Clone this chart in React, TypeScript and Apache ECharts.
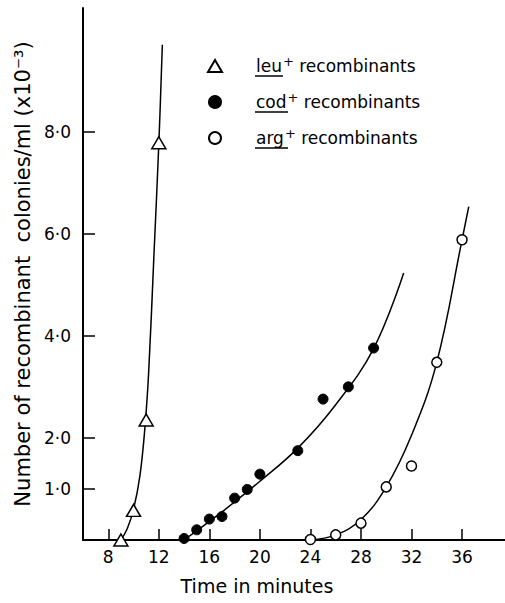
import React, { useEffect, useRef } from "react";
import * as echarts from "echarts";

// Tick values
const xTickValues = [8, 12, 16, 20, 24, 28, 32, 36];
const yTickValues = [1, 2, 4, 6, 8];

// leu+ recombinants (open triangles)
const leuTimes = [9, 10, 11, 12];
const leuCounts = [0, 0.58, 2.35, 7.78];
const leuCurve = [
  [9, 0], [9.5, 0.22], [10, 0.6], [10.5, 1.25], [10.9, 2.2], [11.2, 3.3], [11.6, 5.5], [12.0, 7.75], [12.28, 9.7],
];

// cod+ recombinants (filled circles)
const codTimes = [14, 15, 16, 17, 18, 19, 20, 23, 25, 27, 29];
const codCounts = [0.03, 0.2, 0.41, 0.46, 0.82, 0.99, 1.29, 1.75, 2.76, 3.0, 3.76];
const codCurve = [
  [14, 0], [17, 0.55], [20, 1.15], [23, 1.8], [26, 2.65], [29, 3.75], [31.38, 5.23],
];

// arg+ recombinants (open circles)
const argTimes = [24, 26, 28, 30, 32, 34, 36];
const argCounts = [0.01, 0.1, 0.33, 1.04, 1.45, 3.48, 5.88];
const argCurve = [
  [24, 0], [26, 0.1], [28, 0.4], [30, 1.04], [32, 2.05], [34, 3.48], [36, 5.88], [36.53, 6.53],
];

const FONT = "DejaVu Sans";

export default function App() {
  const ref = useRef<HTMLDivElement>(null);
  useEffect(() => {
    if (!ref.current) return;
    const chart = echarts.init(ref.current, undefined, { renderer: "svg" });
    const pairs = (xs: number[], ys: number[]) => xs.map((x, i) => [x, ys[i]]);
    const lineSeries = (name: string, data: number[][]) => ({
      name,
      type: "line",
      data,
      smooth: 0.4,
      showSymbol: false,
      symbol: "none",
      lineStyle: { color: "#000", width: 1.5 },
      z: 2,
      silent: true,
    });
    chart.setOption({
      animation: false,
      backgroundColor: "#fff",
      grid: { left: 83, top: 8, right: 0, bottom: 63, containLabel: false },
      xAxis: {
        type: "value",
        min: 6,
        max: 39.4,
        name: "Time in minutes",
        nameLocation: "middle",
        nameGap: 36,
        nameTextStyle: { fontFamily: FONT, fontSize: 19, color: "#000", padding: [0, 74, 0, 0] },
        axisLine: { show: true, lineStyle: { color: "#000", width: 2 } },
        axisTick: { show: true, inside: true, length: 11, customValues: xTickValues, lineStyle: { color: "#000", width: 1.5 } },
        axisLabel: { show: true, customValues: xTickValues, fontFamily: FONT, fontSize: 17, color: "#000", margin: 8 },
        splitLine: { show: false },
      },
      yAxis: {
        type: "value",
        min: 0,
        max: 10.42,
        name: "Number of recombinant  colonies/ml (x10⁻³)",
        nameLocation: "middle",
        nameRotate: 90,
        nameGap: 30,
        nameTextStyle: { fontFamily: FONT, fontSize: 21, color: "#000" },
        axisLine: { show: true, lineStyle: { color: "#000", width: 2 } },
        axisTick: { show: true, inside: true, length: 12, customValues: yTickValues, lineStyle: { color: "#000", width: 1.5 } },
        axisLabel: {
          show: true,
          customValues: yTickValues,
          formatter: (v: number) => v.toFixed(1).replace(".", "·"),
          fontFamily: FONT,
          fontSize: 17,
          color: "#000",
          margin: 12,
        },
        splitLine: { show: false },
      },
      legend: {
        data: ["leu", "cod", "arg"],
        orient: "vertical",
        left: 202,
        top: 50,
        itemGap: 15,
        itemWidth: 14,
        itemHeight: 12,
        formatter: (name: string) => `{sp| }{u|${name}}{sup|+}{t| recombinants}`,
        textStyle: {
          fontFamily: FONT,
          fontSize: 17,
          color: "#000",
          lineHeight: 20,
          rich: {
            sp: { width: 29 },
            u: { fontFamily: FONT, fontSize: 17, color: "#000" },
            sup: { fontFamily: FONT, fontSize: 13, color: "#000", padding: [0, 0, 9, 1] },
            t: { fontFamily: FONT, fontSize: 17, color: "#000" },
          },
        },
      },
      graphic: [
        { type: "line", shape: { x1: 255, y1: 76, x2: 283, y2: 76 }, style: { stroke: "#000", lineWidth: 1.5 } },
        { type: "line", shape: { x1: 255, y1: 112, x2: 288, y2: 112 }, style: { stroke: "#000", lineWidth: 1.5 } },
        { type: "line", shape: { x1: 255, y1: 148, x2: 288, y2: 148 }, style: { stroke: "#000", lineWidth: 1.5 } },
      ],
      series: [
        lineSeries("leu-fit", leuCurve),
        lineSeries("cod-fit", codCurve),
        lineSeries("arg-fit", argCurve),
        {
          name: "leu",
          type: "scatter",
          data: pairs(leuTimes, leuCounts),
          symbol: "triangle",
          symbolSize: [14, 12],
          itemStyle: { color: "#fff", borderColor: "#000", borderWidth: 1.5, opacity: 1 },
          z: 5,
        },
        {
          name: "cod",
          type: "scatter",
          data: pairs(codTimes, codCounts),
          symbol: "circle",
          symbolSize: 10,
          itemStyle: { color: "#000", borderColor: "#000", borderWidth: 1, opacity: 1 },
          z: 5,
        },
        {
          name: "arg",
          type: "scatter",
          data: pairs(argTimes, argCounts),
          symbol: "circle",
          symbolSize: 10,
          itemStyle: { color: "#fff", borderColor: "#000", borderWidth: 1.5, opacity: 1 },
          z: 5,
        },
      ],
    });
    return () => chart.dispose();
  }, []);
  return <div ref={ref} style={{ position: "absolute", left: 0, top: 0, width: 505, height: 603 }} />;
}
